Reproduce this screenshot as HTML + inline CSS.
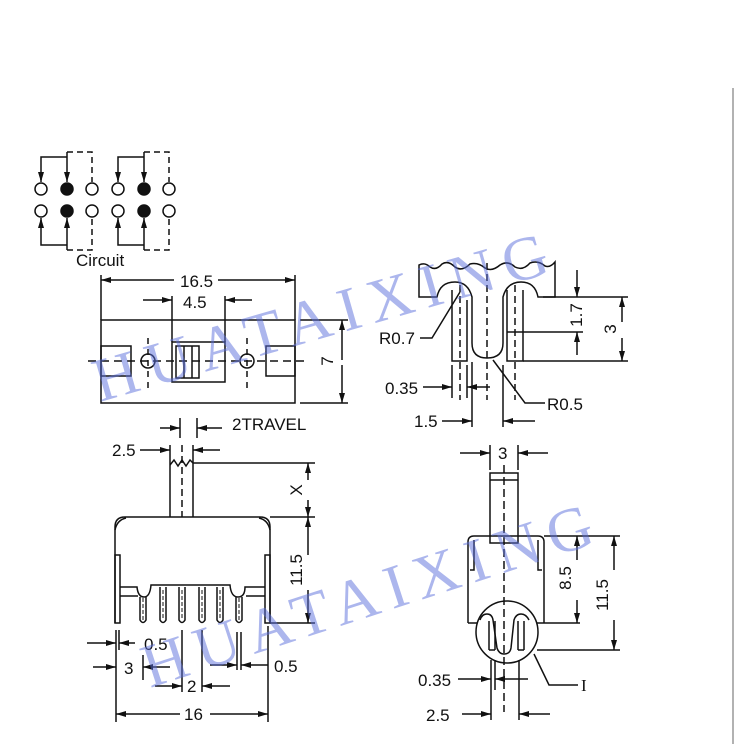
<!DOCTYPE html>
<html><head><meta charset="utf-8"><style>
html,body{margin:0;padding:0;background:#fff;}
svg{display:block;}
text{font-family:"Liberation Sans",Arial,sans-serif;fill:#111;}
</style></head><body>
<svg width="735" height="744" viewBox="0 0 735 744" xmlns="http://www.w3.org/2000/svg">
<defs>
<marker id="a" viewBox="0 0 10 6" refX="10" refY="3" markerWidth="10" markerHeight="6" orient="auto" markerUnits="userSpaceOnUse"><path d="M0,0 L10,3 L0,6 z" fill="#111"/></marker>
</defs>
<line x1="733" y1="88" x2="733" y2="744" stroke="#999" stroke-width="1.5"/>
<g stroke="#111" stroke-width="1.5" fill="none">
<!-- Circuit -->
<g>
<circle cx="41" cy="189" r="6"/><circle cx="67" cy="189" r="6" fill="#111"/><circle cx="92" cy="189" r="6"/>
<circle cx="118" cy="189" r="6"/><circle cx="144" cy="189" r="6" fill="#111"/><circle cx="169" cy="189" r="6"/>
<circle cx="41" cy="211" r="6"/><circle cx="67" cy="211" r="6" fill="#111"/><circle cx="92" cy="211" r="6"/>
<circle cx="118" cy="211" r="6"/><circle cx="144" cy="211" r="6" fill="#111"/><circle cx="169" cy="211" r="6"/>
<polyline points="41,180 41,157 67,157"/><line x1="41" y1="174" x2="41" y2="182" marker-end="url(#a)"/>
<line x1="67" y1="152" x2="67" y2="182" marker-end="url(#a)"/>
<polyline points="67,152 92,152 92,182" stroke-dasharray="6,4"/>
<polyline points="118,180 118,157 144,157"/><line x1="118" y1="174" x2="118" y2="182" marker-end="url(#a)"/>
<line x1="144" y1="152" x2="144" y2="182" marker-end="url(#a)"/>
<polyline points="144,152 169,152 169,182" stroke-dasharray="6,4"/>
<polyline points="41,220 41,245 67,245"/><line x1="41" y1="226" x2="41" y2="218" marker-end="url(#a)"/>
<line x1="67" y1="250" x2="67" y2="218" marker-end="url(#a)"/>
<polyline points="67,250 92,250 92,218" stroke-dasharray="6,4"/>
<polyline points="118,220 118,245 144,245"/><line x1="118" y1="226" x2="118" y2="218" marker-end="url(#a)"/>
<line x1="144" y1="250" x2="144" y2="218" marker-end="url(#a)"/>
<polyline points="144,250 169,250 169,218" stroke-dasharray="6,4"/>
</g>
<!-- Top view -->
<rect x="101" y="320" width="194" height="83"/>
<line x1="101" y1="275" x2="101" y2="320"/><line x1="295" y1="275" x2="295" y2="320"/>
<line x1="174" y1="280" x2="101" y2="280" marker-end="url(#a)"/><line x1="218" y1="280" x2="295" y2="280" marker-end="url(#a)"/>
<line x1="172" y1="296" x2="172" y2="342"/><line x1="225" y1="296" x2="225" y2="342"/>
<line x1="143" y1="300" x2="172" y2="300" marker-end="url(#a)"/><line x1="252" y1="300" x2="225" y2="300" marker-end="url(#a)"/>
<line x1="88" y1="361" x2="308" y2="361" stroke-dasharray="8,5"/>
<rect x="101" y="346" width="30" height="30"/><rect x="266" y="346" width="29" height="30"/>
<circle cx="148" cy="361" r="7"/><circle cx="247" cy="361" r="7"/>
<line x1="148" y1="338" x2="148" y2="388" stroke-dasharray="6,5"/><line x1="247" y1="338" x2="247" y2="388" stroke-dasharray="6,5"/>
<rect x="172" y="342" width="53" height="40"/><rect x="176" y="346" width="23" height="32"/>
<line x1="184" y1="346" x2="184" y2="378"/><line x1="192" y1="346" x2="192" y2="378"/>
<line x1="300" y1="320" x2="348" y2="320"/><line x1="300" y1="403" x2="348" y2="403"/>
<line x1="342" y1="360" x2="342" y2="320" marker-end="url(#a)"/><line x1="342" y1="365" x2="342" y2="403" marker-end="url(#a)"/>
<!-- travel -->
<line x1="180" y1="418" x2="180" y2="438"/><line x1="197" y1="418" x2="197" y2="438"/>
<line x1="160" y1="428" x2="180" y2="428" marker-end="url(#a)"/><line x1="222" y1="428" x2="197" y2="428" marker-end="url(#a)"/>
<!-- Front view -->
<line x1="170" y1="445" x2="170" y2="517"/><line x1="193" y1="445" x2="193" y2="517"/>
<polyline points="170,465 174,460 178,466 182,460 186,466 190,460 193,463"/>
<line x1="182" y1="445" x2="182" y2="517" stroke-dasharray="7,4"/>
<line x1="140" y1="450" x2="170" y2="450" marker-end="url(#a)"/><line x1="220" y1="450" x2="193" y2="450" marker-end="url(#a)"/>
<path d="M115,623 L115,527 Q115,517 125,517 L260,517 Q270,517 270,527 L270,623"/>
<path d="M115,530 Q117,520 126,518" /><path d="M270,530 Q268,520 259,518"/>
<rect x="115" y="555" width="5" height="68"/><rect x="265" y="555" width="5" height="68"/>
<path d="M120,587 L137,587 Q138,597 144,597 Q150,597 151,585 L230,585 Q231,597 238,597 Q245,597 245,587 L265,587"/>
<line x1="120" y1="596" x2="138" y2="596"/><line x1="246" y1="596" x2="265" y2="596"/>
<g>
<path d="M140,597 L140,620 Q143,625 146,620 L146,597"/>
<path d="M160,587 L160,620 Q163,625 166,620 L166,587"/>
<path d="M179,587 L179,620 Q182,625 185,620 L185,587"/>
<path d="M199,587 L199,620 Q202,625 205,620 L205,587"/>
<path d="M217,587 L217,620 Q220,625 223,620 L223,587"/>
<path d="M236,597 L236,620 Q239,625 242,620 L242,597"/>
</g>
<g stroke-width="1" stroke-dasharray="4,2"><line x1="143" y1="598" x2="143" y2="620"/><line x1="163" y1="590" x2="163" y2="620"/><line x1="182" y1="590" x2="182" y2="620"/><line x1="202" y1="590" x2="202" y2="620"/><line x1="220" y1="590" x2="220" y2="620"/><line x1="239" y1="598" x2="239" y2="620"/></g>
<line x1="193" y1="463" x2="315" y2="463"/><line x1="270" y1="517" x2="315" y2="517"/><line x1="270" y1="623" x2="315" y2="623"/>
<line x1="308" y1="480" x2="308" y2="463" marker-end="url(#a)"/><line x1="308" y1="500" x2="308" y2="517" marker-end="url(#a)"/>
<line x1="308" y1="555" x2="308" y2="517" marker-end="url(#a)"/><line x1="308" y1="590" x2="308" y2="623" marker-end="url(#a)"/>
<!-- bottom dims front -->
<line x1="116" y1="630" x2="116" y2="722"/><line x1="119" y1="630" x2="119" y2="650"/>
<line x1="87" y1="643" x2="116" y2="643" marker-end="url(#a)"/><line x1="135" y1="643" x2="119" y2="643" marker-end="url(#a)"/>
<line x1="143" y1="655" x2="143" y2="680"/>
<line x1="93" y1="667" x2="116" y2="667" marker-end="url(#a)"/><line x1="170" y1="667" x2="143" y2="667" marker-end="url(#a)"/>
<line x1="182" y1="630" x2="182" y2="692"/><line x1="202" y1="630" x2="202" y2="692"/>
<line x1="155" y1="686" x2="182" y2="686" marker-end="url(#a)"/><line x1="230" y1="686" x2="202" y2="686" marker-end="url(#a)"/>
<line x1="237" y1="632" x2="237" y2="670"/><line x1="241" y1="632" x2="241" y2="670"/>
<line x1="210" y1="665" x2="237" y2="665" marker-end="url(#a)"/><line x1="268" y1="665" x2="241" y2="665" marker-end="url(#a)"/>
<line x1="268" y1="626" x2="268" y2="722"/>
<line x1="180" y1="714" x2="116" y2="714" marker-end="url(#a)"/><line x1="210" y1="714" x2="268" y2="714" marker-end="url(#a)"/>
<!-- Side view -->
<line x1="490" y1="445" x2="490" y2="470"/><line x1="518" y1="445" x2="518" y2="470"/>
<line x1="460" y1="453" x2="490" y2="453" marker-end="url(#a)"/><line x1="548" y1="453" x2="518" y2="453" marker-end="url(#a)"/>
<rect x="490" y="473" width="28" height="70"/><line x1="490" y1="480" x2="518" y2="480"/>
<path d="M468,623 L468,542 Q468,536 474,536 L538,536 Q544,536 544,542 L544,623"/>
<path d="M474,540 L474,570 L470,570"/><path d="M538,540 L538,570 L542,570"/>
<line x1="468" y1="623" x2="478" y2="623"/><line x1="536" y1="623" x2="580" y2="623"/>
<circle cx="507" cy="632" r="31" fill="#fff"/>
<line x1="504" y1="465" x2="504" y2="712" stroke-dasharray="8,4"/>
<path d="M480,620 Q482,614 487,614 Q492,614 493,620 L497,648 Q499,654 504,654 Q510,654 511,648 L514,620 Q516,614 521,614 Q526,614 529,620"/>
<path d="M489,621 L489,650 M495,621 L495,650 M489,650 L495,650"/>
<path d="M518,621 L518,650 M524,621 L524,650 M518,650 L524,650"/>
<line x1="544" y1="536" x2="620" y2="536"/><line x1="537" y1="650" x2="620" y2="650"/>
<line x1="577" y1="560" x2="577" y2="536" marker-end="url(#a)"/><line x1="577" y1="600" x2="577" y2="623" marker-end="url(#a)"/>
<line x1="614" y1="570" x2="614" y2="536" marker-end="url(#a)"/><line x1="614" y1="620" x2="614" y2="650" marker-end="url(#a)"/>
<line x1="491" y1="660" x2="491" y2="720"/><line x1="495" y1="660" x2="495" y2="690"/><line x1="519" y1="660" x2="519" y2="720"/>
<line x1="458" y1="679" x2="491" y2="679" marker-end="url(#a)"/><line x1="528" y1="679" x2="495" y2="679" marker-end="url(#a)"/>
<line x1="462" y1="714" x2="491" y2="714" marker-end="url(#a)"/><line x1="550" y1="714" x2="519" y2="714" marker-end="url(#a)"/>
<polyline points="534,654 549,685 578,685"/>
<!-- Detail top-right -->
<path d="M419,297 L419,265 Q425,262 430,267 Q436,271 442,264 Q448,260 455,267 Q462,272 470,264 Q478,262 485,268 Q492,272 500,265 Q508,260 515,267 Q523,271 530,263 Q538,260 545,266 Q550,268 555,262 L555,297 L538,297 Q535,282 521,282 Q507,282 503,297 L503,343 Q503,358 487,358 Q472,358 472,343 L472,297 Q468,282 455,282 Q440,282 437,297 Z"/>
<path d="M452,290 L452,361 L467,361 L467,300"/>
<path d="M507,290 L507,361 L523,361 L523,290"/>
<g stroke-dasharray="7,4"><line x1="460" y1="285" x2="460" y2="400"/><line x1="487" y1="263" x2="487" y2="400"/><line x1="515" y1="285" x2="515" y2="400"/></g>
<line x1="543" y1="297" x2="628" y2="297"/><line x1="507" y1="332" x2="583" y2="332"/><line x1="523" y1="361" x2="628" y2="361"/>
<line x1="577" y1="270" x2="577" y2="297" marker-end="url(#a)"/><line x1="577" y1="355" x2="577" y2="332" marker-end="url(#a)"/>
<line x1="622" y1="322" x2="622" y2="297" marker-end="url(#a)"/><line x1="622" y1="338" x2="622" y2="361" marker-end="url(#a)"/>
<polyline points="420,338 432,338 460,292"/>
<polyline points="493,360 525,403 545,403"/>
<line x1="452" y1="365" x2="452" y2="398"/><line x1="467" y1="365" x2="467" y2="398"/>
<line x1="423" y1="387" x2="452" y2="387" marker-end="url(#a)"/><line x1="490" y1="387" x2="467" y2="387" marker-end="url(#a)"/>
<line x1="472" y1="362" x2="472" y2="427"/><line x1="503" y1="365" x2="503" y2="427"/>
<line x1="442" y1="421" x2="472" y2="421" marker-end="url(#a)"/><line x1="535" y1="421" x2="503" y2="421" marker-end="url(#a)"/>
</g>
<!-- Texts -->
<g font-size="17">
<text x="76" y="266">Circuit</text>
<text x="180" y="287">16.5</text>
<text x="183" y="308">4.5</text>
<text x="232" y="430">2TRAVEL</text>
<text x="112" y="456">2.5</text>
<text x="144" y="650">0.5</text>
<text x="124" y="674">3</text>
<text x="187" y="692">2</text>
<text x="274" y="672">0.5</text>
<text x="184" y="720">16</text>
<text x="498" y="459">3</text>
<text x="418" y="686">0.35</text>
<text x="426" y="721">2.5</text>
<text x="581" y="691" font-family="Liberation Serif,serif" style="font-family:'Liberation Serif',serif">I</text>
<text x="379" y="344">R0.7</text>
<text x="547" y="410">R0.5</text>
<text x="385" y="394">0.35</text>
<text x="414" y="427">1.5</text>
<text transform="translate(333,361) rotate(-90)" text-anchor="middle">7</text>
<text transform="translate(302,490) rotate(-90)" text-anchor="middle">X</text>
<text transform="translate(302,570) rotate(-90)" text-anchor="middle">11.5</text>
<text transform="translate(571,578) rotate(-90)" text-anchor="middle">8.5</text>
<text transform="translate(608,595) rotate(-90)" text-anchor="middle">11.5</text>
<text transform="translate(582,315) rotate(-90)" text-anchor="middle">1.7</text>
<text transform="translate(616,329) rotate(-90)" text-anchor="middle">3</text>
</g>
<g font-family="Liberation Serif,serif" font-size="62" fill="rgba(90,110,220,0.55)" style="font-family:'Liberation Serif',serif">
<text transform="translate(100,402) rotate(-16)" style="fill:rgba(90,110,220,0.5);font-family:'Liberation Serif',serif" textLength="470">HUATAIXING</text>
<text transform="translate(150,688) rotate(-18)" style="fill:rgba(90,110,220,0.5);font-family:'Liberation Serif',serif" textLength="470">HUATAIXING</text>
</g>
</svg>
</body></html>
